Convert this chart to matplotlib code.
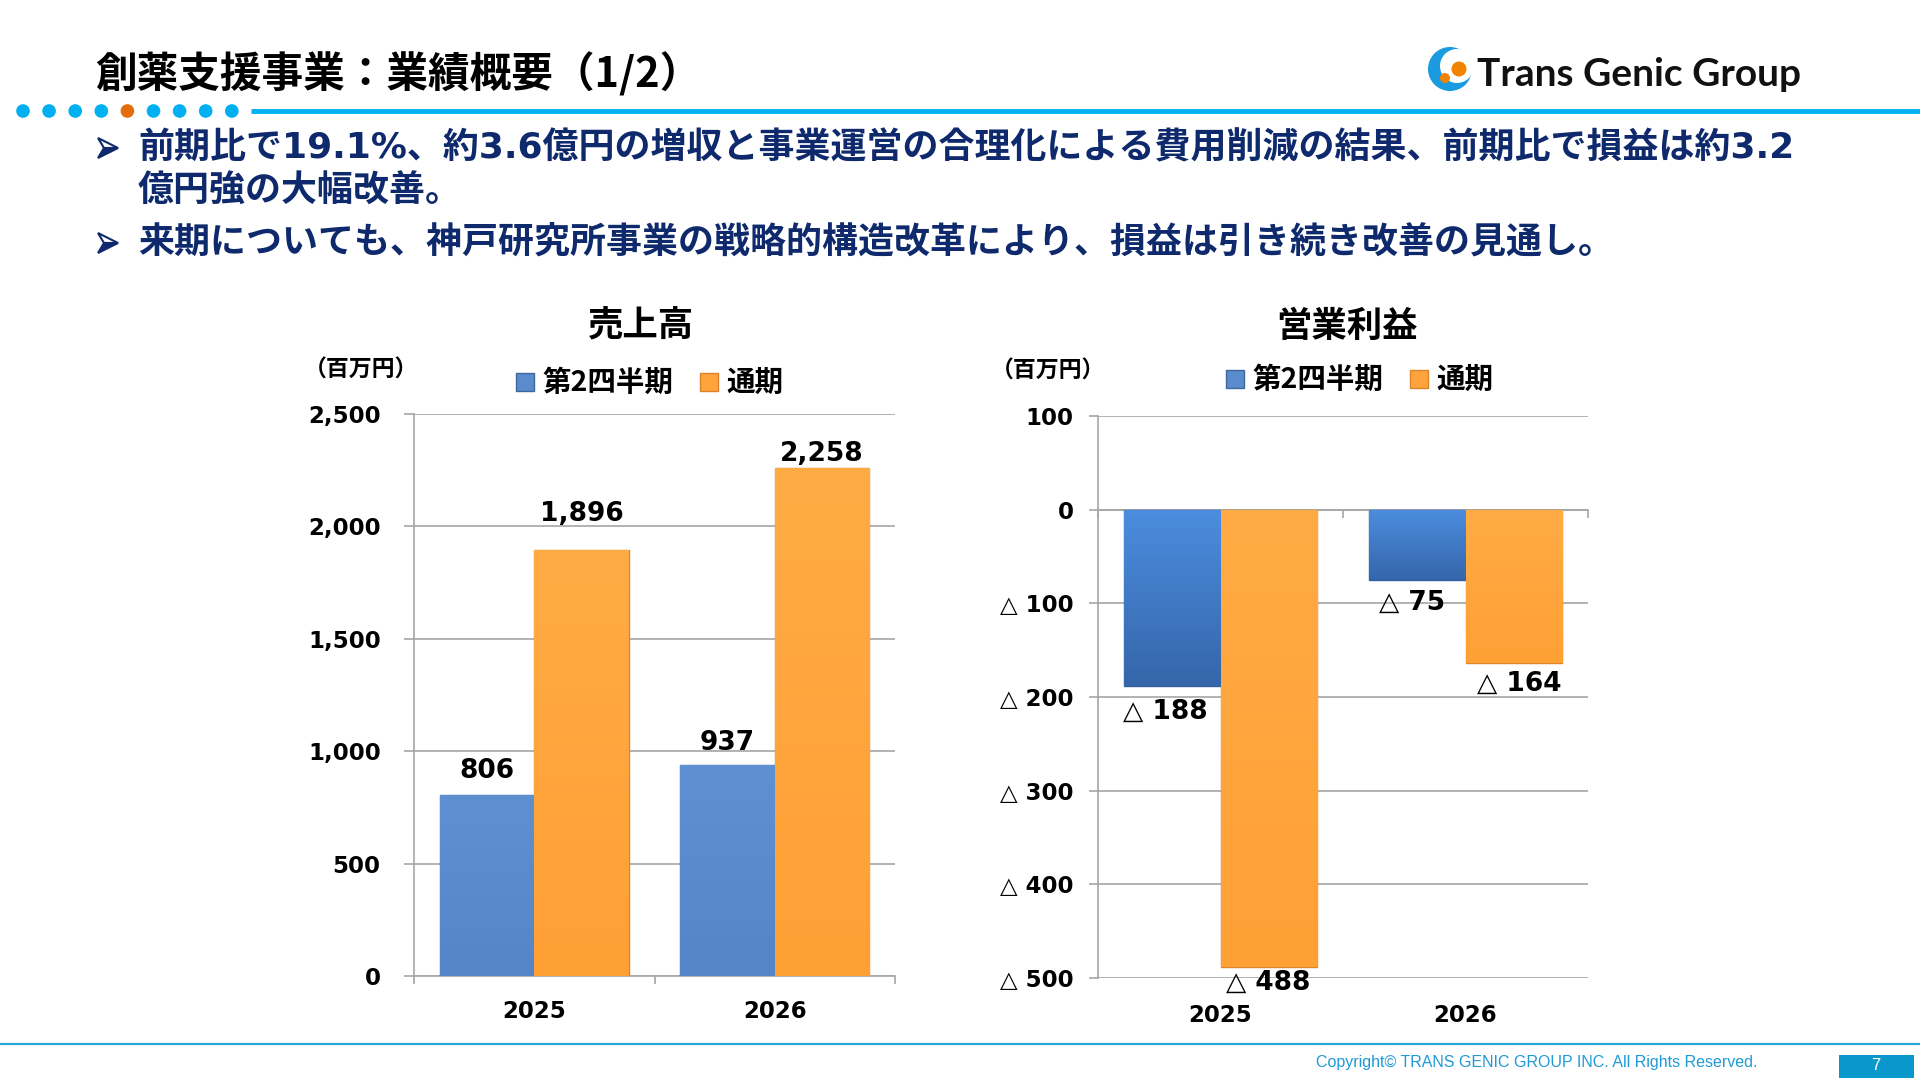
import numpy as np
import matplotlib
matplotlib.use("Agg")
import matplotlib.pyplot as plt
from matplotlib.patches import Rectangle, Circle, Polygon
from matplotlib.colors import LinearSegmentedColormap
from matplotlib.ticker import FuncFormatter
from matplotlib.transforms import blended_transform_factory

W, H = 1920, 1080

# data
years = ["2025", "2026"]
series_names = ["第2四半期", "通期"]
sales_q2 = [806, 937]
sales_full = [1896, 2258]
op_q2 = [-188, -75]
op_full = [-488, -164]
sales_ticks = [0, 500, 1000, 1500, 2000, 2500]
op_ticks = [100, 0, -100, -200, -300, -400, -500]

title = "創薬支援事業：業績概要（1/2）"
bullet_lines = [
    (True, "前期比で19.1%、約3.6億円の増収と事業運営の合理化による費用削減の結果、前期比で損益は約3.2"),
    (False, "億円強の大幅改善。"),
    (True, "来期についても、神戸研究所事業の戦略的構造改革により、損益は引き続き改善の見通し。"),
]

# label nudges (points), the slide had some labels moved by hand
sales_q2_dy = [17, 16]
sales_full_dy = [26, 10.5]
op_q2_dy = [-18.5, -16.5]
op_full_dy = [-11.5, -14.5]
op_q2_dx = [-5, -3.5]
op_full_dx = [0, 4]

JP = ["Noto Sans CJK JP", "DejaVu Sans"]
MIX = ["DejaVu Sans", "Noto Sans CJK JP"]
NAVY = "#0F2A6C"
CYAN = "#00B0F0"
BLUE = "#5A8BCC"
BLUE_EDGE = "#3F679E"
ORANGE = "#FFA33C"
ORANGE_EDGE = "#D9842C"
GRID = "#A6A6A6"

fig = plt.figure(figsize=(W / 100, H / 100), dpi=100)
fig.patch.set_facecolor("white")

# pixel-space overlay for the slide decoration
bg = fig.add_axes([0, 0, 1, 1], zorder=0)
bg.set_xlim(0, W)
bg.set_ylim(H, 0)
bg.axis("off")

bg.text(95, 74, title, family=JP, fontsize=30, fontweight="bold", color="black", va="center")

for i in range(9):
    col = "#E46C0A" if i == 4 else CYAN
    bg.add_patch(Circle((23 + i * 26.1, 111), 6.8, color=col, lw=0))
bg.plot([251, W], [111, 111], color=CYAN, lw=3.5, solid_capstyle="butt")

# logo
bg.add_patch(Circle((1450, 69), 22, color="#1A9BE0", lw=0))
bg.add_patch(Circle((1457, 66), 17, color="white", lw=0))
bg.add_patch(Circle((1445, 78), 5, color="#F08300", lw=0))
bg.add_patch(Circle((1459, 69), 7.5, color="#F08300", lw=0))
bg.text(1477, 74, "Trans Genic Group", family="Lato", fontsize=28, fontweight="bold",
        color="#111111", va="center")


def arrow(x, y):
    bg.add_patch(Polygon([(x, y - 10), (x + 20, y), (x + 6, y)], closed=True,
                         facecolor="white", edgecolor=NAVY, lw=1.5, joinstyle="miter"))
    bg.add_patch(Polygon([(x + 6, y), (x + 20, y), (x, y + 10)], closed=True,
                         facecolor=NAVY, edgecolor=NAVY, lw=1.5, joinstyle="miter"))


for (mark, line), y in zip(bullet_lines, [148, 192, 243]):
    if mark:
        arrow(98, y)
    bg.text(138, y, line, family=MIX, fontsize=25.9, fontweight="bold", color=NAVY, va="center")

# chart headers and legends
bg.text(641, 326, "売上高", family=JP, fontsize=25.5, fontweight="bold", ha="center", va="center")
bg.text(1347, 326, "営業利益", family=JP, fontsize=25.5, fontweight="bold", ha="center", va="center")
bg.text(304, 370, "（百万円）", family=JP, fontsize=16.5, fontweight="bold", va="center")
bg.text(991, 371, "（百万円）", family=JP, fontsize=16.5, fontweight="bold", va="center")


def legend(x0, y):
    cols = [(BLUE, BLUE_EDGE), (ORANGE, ORANGE_EDGE)]
    xs = [x0, x0 + 184]
    for (fc, ec), name, x in zip(cols, series_names, xs):
        bg.add_patch(Rectangle((x, y - 9), 18, 18, facecolor=fc, edgecolor=ec, lw=1))
        bg.text(x + 26, y + 1, name, family=JP, fontsize=20.5, fontweight="bold", va="center")


legend(516, 382)
legend(1226, 379)

# footer
bg.plot([0, W], [1044, 1044], color="#27A6DC", lw=1.6)
bg.text(1316, 1063, "Copyright© TRANS GENIC GROUP INC. All Rights Reserved.",
        family="Liberation Sans", fontsize=11.5, color="#1E9AD6", va="center")
bg.add_patch(Rectangle((1839, 1055), 75, 23, facecolor="#0A98CC", lw=0))
bg.text(1876, 1066, "7", family="Liberation Sans", fontsize=12, color="white", ha="center", va="center")


def shade(ax, bars, top, bottom):
    cmap = LinearSegmentedColormap.from_list("g", [top, bottom])
    grad = np.linspace(0, 1, 64).reshape(-1, 1)
    for b in bars:
        x0, y0 = b.get_x(), b.get_y()
        x1, y1 = x0 + b.get_width(), y0 + b.get_height()
        im = ax.imshow(grad, extent=(x0, x1, min(y0, y1), max(y0, y1)), origin="upper",
                       cmap=cmap, aspect="auto", zorder=3, interpolation="bilinear")
        im.set_clip_path(b)


def base_axes(rect, ylim, ticks, fmt):
    ax = fig.add_axes(rect, zorder=2)
    ax.set_facecolor("none")
    ax.set_ylim(*ylim)
    ax.set_yticks(ticks)
    ax.yaxis.set_major_formatter(FuncFormatter(fmt))
    ax.grid(axis="y", color=GRID, lw=1.2, zorder=0)
    for s in ["top", "right"]:
        ax.spines[s].set_visible(False)
    for s in ["left", "bottom"]:
        ax.spines[s].set_color(GRID)
        ax.spines[s].set_linewidth(1.2)
    ax.tick_params(axis="y", length=7, color=GRID, width=1.2, pad=17)
    for lab in ax.get_yticklabels():
        lab.set_fontfamily(MIX)
        lab.set_fontweight("bold")
        lab.set_fontsize(16.5)
    x = np.arange(len(years))
    ax.set_xticks(x)
    ax.set_xticks([-0.5, 0.5, 1.5], minor=True)
    ax.tick_params(axis="x", which="major", length=0)
    ax.tick_params(axis="x", which="minor", length=6, color=GRID, width=1.2)
    ax.set_xlim(-0.5, 1.5)
    return ax, x


def put_labels(ax, bars, vals, dys, dxs, fmt):
    for b, v, dy, dx in zip(bars, vals, dys, dxs):
        ax.annotate(fmt(v), (b.get_x() + b.get_width() / 2, v), xytext=(dx, dy),
                    textcoords="offset points", ha="center", va="center",
                    family=MIX, fontweight="bold", fontsize=19, zorder=5, annotation_clip=False)


w = 0.393

# sales chart
ax1, x = base_axes([414 / W, 1 - 976 / H, 481 / W, 562 / H], (0, 2500), sales_ticks,
                   lambda v, p: f"{int(v):,}")
ax1.set_xticklabels(years, fontfamily=MIX, fontweight="bold", fontsize=16.5)
ax1.tick_params(axis="x", which="major", pad=17)
b1 = ax1.bar(x - w / 2, sales_q2, w, color=BLUE, edgecolor=BLUE_EDGE, lw=1, zorder=3)
b2 = ax1.bar(x + w / 2, sales_full, w, color=ORANGE, edgecolor=ORANGE_EDGE, lw=1, zorder=3)
shade(ax1, b1, "#5F90D2", "#5485C6")
shade(ax1, b2, "#FFAB45", "#FFA035")
put_labels(ax1, b1, sales_q2, sales_q2_dy, [0, 0], lambda v: f"{v:,}")
put_labels(ax1, b2, sales_full, sales_full_dy, [0, 0], lambda v: f"{v:,}")
ax1.set_xlim(-0.5, 1.5)
ax1.set_ylim(0, 2500)


# operating profit chart
def op_fmt(v, p=None):
    v = int(round(v))
    if v < 0:
        return f"△ {abs(v)}"
    return f"{v}"


ax2, x = base_axes([1098 / W, 1 - 978 / H, 490 / W, 562 / H], (-500, 100), op_ticks, op_fmt)
ax2.tick_params(axis="y", pad=11, length=6.5)
ax2.spines["bottom"].set_position(("data", 0))
ax2.set_xticklabels(["", ""])
tr = blended_transform_factory(ax2.transData, ax2.transAxes)
for xi, yr in zip(x, years):
    ax2.text(xi, -0.066, yr, transform=tr, ha="center", va="center",
             family=MIX, fontweight="bold", fontsize=16.5)
c1 = ax2.bar(x - w / 2, op_q2, w, color="#4379C2", edgecolor="#2F5F9E", lw=1, zorder=3)
c2 = ax2.bar(x + w / 2, op_full, w, color=ORANGE, edgecolor=ORANGE_EDGE, lw=1, zorder=3)
shade(ax2, c1, "#4C8DDF", "#3566AA")
shade(ax2, c2, "#FFAB45", "#FFA035")
put_labels(ax2, c1, op_q2, op_q2_dy, op_q2_dx, op_fmt)
put_labels(ax2, c2, op_full, op_full_dy, op_full_dx, op_fmt)
ax2.set_xlim(-0.5, 1.5)
ax2.set_ylim(-500, 100)

fig.savefig("out.png", dpi=100, facecolor="white")
